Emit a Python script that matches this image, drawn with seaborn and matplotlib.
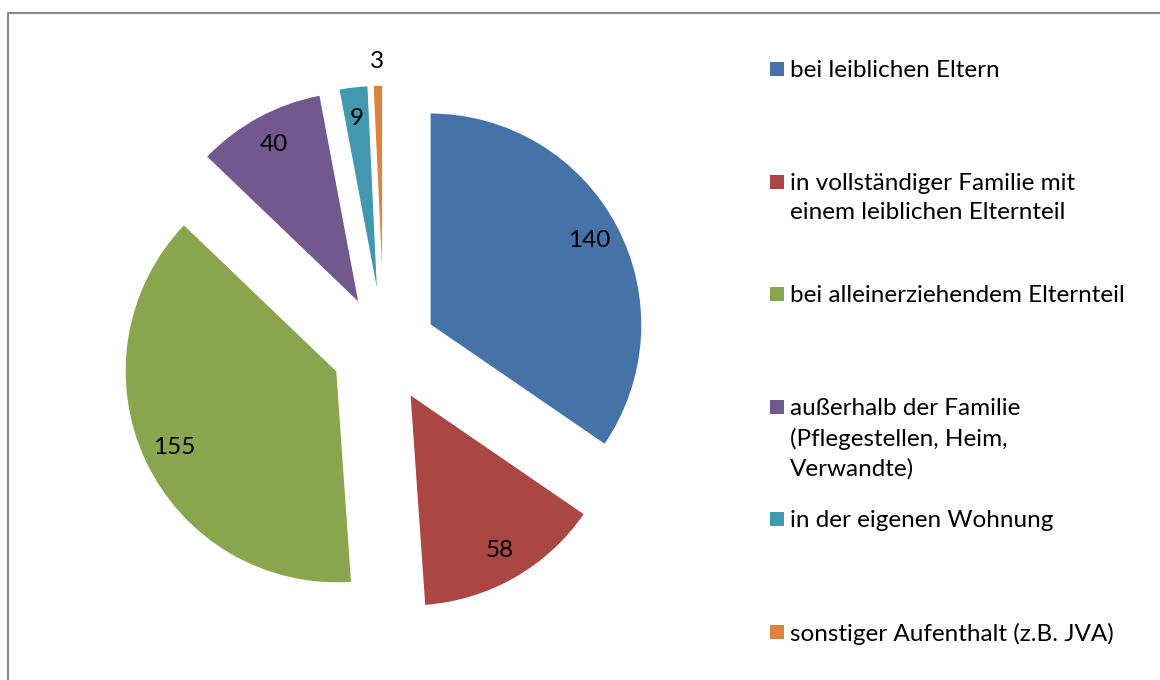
import matplotlib
matplotlib.use("Agg")
import matplotlib.pyplot as plt
import seaborn as sns
import numpy as np
from matplotlib.patches import Rectangle
from matplotlib.lines import Line2D

categories = [
    "bei leiblichen Eltern",
    "in vollständiger Familie mit\neinem leiblichen Elternteil",
    "bei alleinerziehendem Elternteil",
    "außerhalb der Familie\n(Pflegestellen, Heim,\nVerwandte)",
    "in der eigenen Wohnung",
    "sonstiger Aufenthalt (z.B. JVA)",
]
values = [140, 58, 155, 40, 9, 3]
colors = ["#4572A7", "#AA4643", "#89A54E", "#71588F", "#4198AF", "#DB843D"]

sns.set_theme(style="white")
plt.rcParams['font.family'] = ['Lato', 'DejaVu Sans']
palette = sns.color_palette(colors)

W, H = 1160, 680
fig = plt.figure(figsize=(W / 100, H / 100), dpi=100)
fig.patch.set_facecolor("white")

cx, cy, R = 384, 349, 212
half = 300
ax = fig.add_axes([(cx - half) / W, (H - cy - half) / H, 2 * half / W, 2 * half / H])
ax.set_aspect("equal")
ax.axis("off")

explode = [0.245] * len(values)
wedges, _ = ax.pie(values, colors=palette, startangle=90, counterclock=False,
                   explode=explode, radius=1.0,
                   wedgeprops=dict(edgecolor="white", linewidth=1))
ax.set_xlim(-half / R, half / R)
ax.set_ylim(-half / R, half / R)

total = sum(values)
for w, v in zip(wedges, values):
    th = np.deg2rad((w.theta1 + w.theta2) / 2)
    frac = v / total
    d = 0.85 if frac > 0.015 else 1.11
    x0, y0 = w.center
    ax.text(x0 + d * np.cos(th), y0 + d * np.sin(th), str(v),
            ha="center", va="center", fontsize=17.5, color="black")

# legend
leg_x = 770
sq = 14
for i, (lab, c) in enumerate(zip(categories, colors)):
    ytop = 69 + 112.6 * i
    fig.patches.append(Rectangle((leg_x / W, 1 - (ytop + sq / 2) / H), sq / W, sq / H,
                                 transform=fig.transFigure, facecolor=c, edgecolor="none"))
    fig.text((leg_x + 20) / W, 1 - (ytop - 9) / H, lab, ha="left", va="top",
             fontsize=17.5, color="black", linespacing=1.48)

# border
fig.add_artist(Line2D([8 / W, 8 / W, 1.0], [0.0, 1 - 13 / H, 1 - 13 / H],
                      transform=fig.transFigure, color="#888888", linewidth=1.5))

fig.savefig("out.png", dpi=100, facecolor="white")
